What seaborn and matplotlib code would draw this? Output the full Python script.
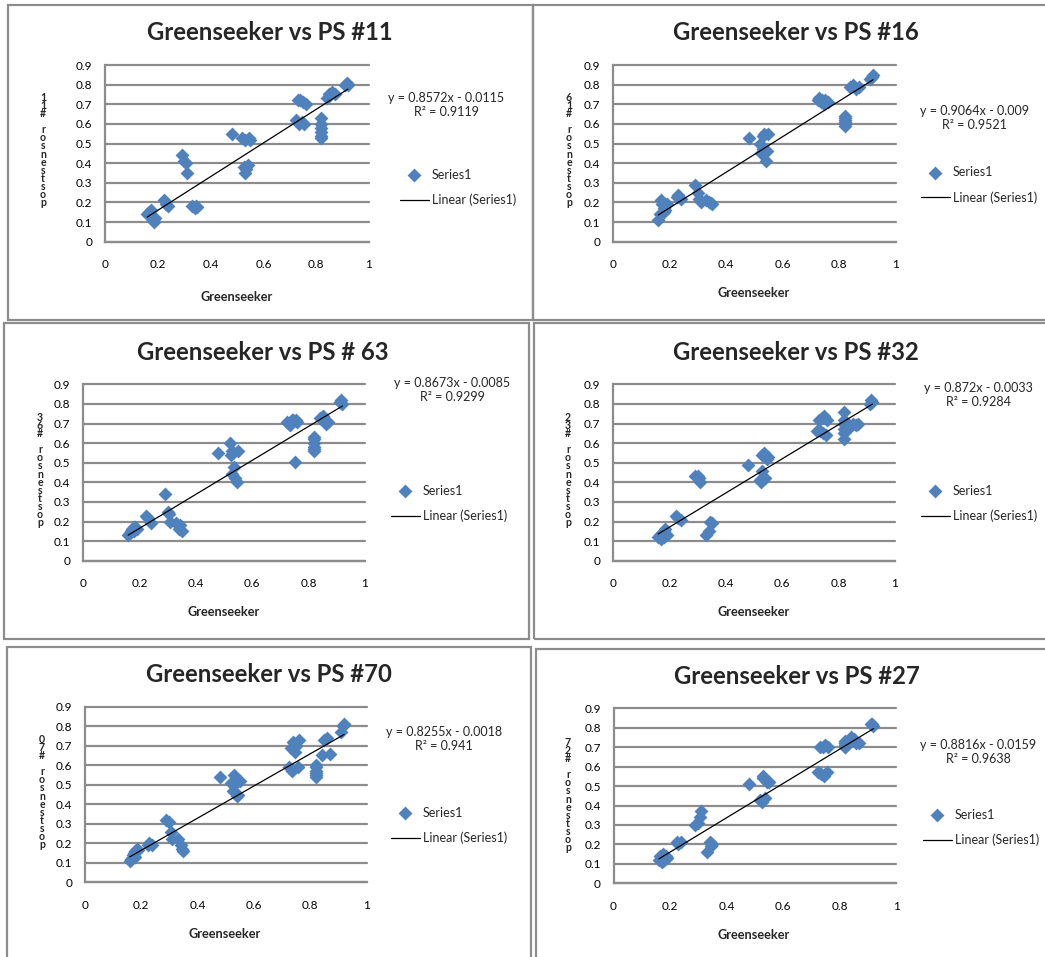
import numpy as np
import pandas as pd
import matplotlib
matplotlib.use("Agg")
import matplotlib.pyplot as plt
import seaborn as sns
from matplotlib.patches import Rectangle

# ---------------- data ----------------
greenseeker = [0.16, 0.165, 0.17, 0.175, 0.18, 0.18, 0.185, 0.19,
               0.225, 0.23, 0.24,
               0.29, 0.30, 0.305, 0.31,
               0.33, 0.34, 0.345, 0.35,
               0.48,
               0.52, 0.525, 0.53, 0.53, 0.535, 0.54, 0.545, 0.55,
               0.725, 0.73, 0.735, 0.74, 0.745, 0.75, 0.755, 0.76,
               0.82, 0.82, 0.82, 0.82, 0.82, 0.82,
               0.84, 0.85, 0.86, 0.87,
               0.91, 0.915, 0.92]

ps11 = [0.14, 0.15, 0.13, 0.16, 0.12, 0.11, 0.10, 0.12,
        0.21, 0.19, 0.18,
        0.44, 0.41, 0.40, 0.35,
        0.18, 0.17, 0.18, 0.175,
        0.55,
        0.53, 0.38, 0.52, 0.35, 0.37, 0.39, 0.53, 0.52,
        0.62, 0.72, 0.60, 0.72, 0.61, 0.71, 0.60, 0.70,
        0.63, 0.60, 0.58, 0.56, 0.54, 0.53,
        0.73, 0.75, 0.76, 0.75,
        0.80, 0.81, 0.80]

ps16 = [0.11, 0.14, 0.21, 0.19, 0.17, 0.15, 0.16, 0.19,
        0.23, 0.24, 0.22,
        0.29, 0.25, 0.22, 0.20,
        0.21, 0.20, 0.195, 0.19,
        0.53,
        0.50, 0.45, 0.54, 0.47, 0.55, 0.41, 0.46, 0.55,
        0.72, 0.73, 0.71, 0.72, 0.70, 0.72, 0.71, 0.71,
        0.63, 0.62, 0.60, 0.59, 0.61, 0.64,
        0.79, 0.80, 0.78, 0.79,
        0.83, 0.84, 0.85]

ps63 = [0.13, 0.14, 0.15, 0.16, 0.17, 0.15, 0.17, 0.16,
        0.23, 0.22, 0.19,
        0.34, 0.25, 0.24, 0.20,
        0.19, 0.16, 0.18, 0.15,
        0.55,
        0.60, 0.54, 0.56, 0.44, 0.48, 0.42, 0.40, 0.56,
        0.71, 0.70, 0.69, 0.72, 0.72, 0.505, 0.72, 0.71,
        0.62, 0.60, 0.58, 0.56, 0.57, 0.63,
        0.73, 0.74, 0.70, 0.71,
        0.81, 0.82, 0.80]

ps32 = [0.12, 0.13, 0.11, 0.14, 0.15, 0.12, 0.16, 0.13,
        0.23, 0.22, 0.21,
        0.43, 0.43, 0.42, 0.40,
        0.13, 0.15, 0.20, 0.19,
        0.49,
        0.41, 0.40, 0.54, 0.46, 0.55, 0.42, 0.52, 0.53,
        0.66, 0.72, 0.66, 0.73, 0.65, 0.74, 0.64, 0.72,
        0.76, 0.72, 0.67, 0.62, 0.65, 0.70,
        0.68, 0.70, 0.69, 0.70,
        0.80, 0.82, 0.81]

ps70 = [0.11, 0.12, 0.14, 0.15, 0.16, 0.13, 0.17, 0.165,
        0.19, 0.20, 0.19,
        0.32, 0.31, 0.26, 0.22,
        0.22, 0.19, 0.17, 0.16,
        0.54,
        0.51, 0.47, 0.55, 0.50, 0.53, 0.44, 0.45, 0.52,
        0.59, 0.69, 0.57, 0.72, 0.67, 0.70, 0.59, 0.73,
        0.59, 0.56, 0.54, 0.57, 0.55, 0.60,
        0.65, 0.73, 0.74, 0.66,
        0.77, 0.80, 0.81]

ps27 = [0.12, 0.14, 0.11, 0.15, 0.13, 0.12, 0.14, 0.13,
        0.21, 0.20, 0.21,
        0.30, 0.31, 0.34, 0.37,
        0.16, 0.21, 0.19, 0.20,
        0.51,
        0.43, 0.42, 0.55, 0.54, 0.44, 0.53, 0.52, 0.52,
        0.57, 0.70, 0.56, 0.70, 0.55, 0.71, 0.57, 0.70,
        0.70, 0.71, 0.72, 0.73, 0.70, 0.72,
        0.75, 0.74, 0.72, 0.72,
        0.82, 0.82, 0.81]

series = [ps11, ps16, ps63, ps32, ps70, ps27]
titles = ["Greenseeker vs PS #11", "Greenseeker vs PS #16",
          "Greenseeker vs PS # 63", "Greenseeker vs PS #32",
          "Greenseeker vs PS #70", "Greenseeker vs PS #27"]
ylabels = ["postsensor #11", "postsensor #16", "postsensor #63",
           "postsensor #32", "postsensor #70", "postsensor #27"]
slopes = [0.8572, 0.9064, 0.8673, 0.872, 0.8255, 0.8816]
intercepts = [-0.0115, -0.009, -0.0085, -0.0033, -0.0018, -0.0159]
r_squared = [0.9119, 0.9521, 0.9299, 0.9284, 0.941, 0.9638]
x_ticks = [0, 0.2, 0.4, 0.6, 0.8, 1]
x_ticklabels = ["0", "0.2", "0.4", "0.6", "0.8", "1"]
y_ticks = [0, 0.1, 0.2, 0.3, 0.4, 0.5, 0.6, 0.7, 0.8, 0.9]
y_ticklabels = ["0", "0.1", "0.2", "0.3", "0.4", "0.5", "0.6", "0.7", "0.8", "0.9"]

# ---------------- layout (pixels) ----------------
W, H = 1045, 957
layout = [
    dict(axes=(105, 369, 65, 241.7), title=(270, 33), eq=(446, 99), leg=(400, 187.5),
         ylab=(43, 150), xlab=(237, 297), box=(8, 5, 532.7, 320)),
    dict(axes=(613, 895.7, 65, 241.7), title=(796, 33), eq=(974, 112), leg=(921, 185),
         ylab=(569, 150), xlab=(754, 293), box=(532.7, 5, 1052, 320)),
    dict(axes=(83, 365, 384.3, 560.7), title=(263, 352), eq=(452, 384), leg=(391, 503.5),
         ylab=(40, 470), xlab=(224, 612), box=(4, 323.3, 529, 639)),
    dict(axes=(613, 895, 384.3, 560.7), title=(796, 352), eq=(978, 389), leg=(921, 503.5),
         ylab=(568, 470), xlab=(754, 612), box=(534.3, 323.3, 1052, 639)),
    dict(axes=(84.6, 366.7, 706.7, 882.3), title=(269, 674), eq=(444, 733), leg=(391, 825.5),
         ylab=(42, 792), xlab=(225, 934), box=(6.7, 647.3, 530.7, 962)),
    dict(axes=(613.5, 896, 708.3, 883.3), title=(797, 677), eq=(978, 746), leg=(923, 827.5),
         ylab=(568, 795), xlab=(754, 935), box=(535.7, 649, 1052, 962)),
]

BLUE = "#4F81BD"
GRID = "#8C8C8C"

sns.set_style("white")
plt.rcParams["font.family"] = ["Lato", "DejaVu Sans"]

fig = plt.figure(figsize=(W / 100, H / 100), dpi=100)


def fx(px):
    return px / W


def fy(py):
    return 1 - py / H


for i in range(6):
    L = layout[i]
    x0, x1, y0, y1 = L["axes"]
    ax = fig.add_axes([fx(x0), fy(y1), (x1 - x0) / W, (y1 - y0) / H])
    df = pd.DataFrame({"Greenseeker": greenseeker, "post": series[i]})
    sns.scatterplot(data=df, x="Greenseeker", y="post", marker="D", s=50,
                    color=BLUE, linewidth=0, ax=ax, label="Series1", zorder=3)
    xs = np.array([min(greenseeker), max(greenseeker)])
    ax.plot(xs, slopes[i] * xs + intercepts[i], color="black", lw=0.9,
            label="Linear (Series1)", zorder=4)

    ax.set_xlim(0, 1)
    ax.set_ylim(0, 0.9)
    ax.set_xticks(x_ticks)
    ax.set_xticklabels(x_ticklabels)
    ax.set_yticks(y_ticks)
    ax.set_yticklabels(y_ticklabels)
    ax.yaxis.grid(True, color=GRID, lw=1.6)
    ax.xaxis.grid(False)
    ax.set_axisbelow(True)
    for gl in ax.get_ygridlines():
        gl.set_clip_on(False)
    for s in ["top", "right"]:
        ax.spines[s].set_visible(False)
    for s in ["left", "bottom"]:
        ax.spines[s].set_color(GRID)
        ax.spines[s].set_linewidth(1.6)
    ax.tick_params(axis="both", direction="out", length=3.5, width=1.4,
                   color=GRID, labelsize=8.5, labelcolor="black")
    ax.tick_params(axis="x", pad=9)
    ax.tick_params(axis="y", pad=5.5)
    ax.set_xlabel("")
    ax.set_ylabel("")

    # x label
    fig.text(fx(L["xlab"][0]), fy(L["xlab"][1]), "Greenseeker", ha="center",
             va="center", fontsize=9.2, fontweight="bold")
    # stacked y label (Excel style)
    fig.text(fx(L["ylab"][0]), fy(L["ylab"][1]), "\n".join(reversed(ylabels[i])),
             ha="center", va="center", fontsize=7.6, fontweight="bold",
             linespacing=0.68, multialignment="center")
    # title
    fig.text(fx(L["title"][0]), fy(L["title"][1]), titles[i], ha="center",
             va="center", fontsize=17.2, fontweight="bold")
    # trendline equation
    eq = f"y = {slopes[i]}x - {abs(intercepts[i])}\nR\u00b2 = {r_squared[i]}"
    fig.text(fx(L["eq"][0]), fy(L["eq"][1]) + 0.007, eq, ha="center", va="top",
             fontsize=9, multialignment="center", linespacing=1.2)
    # legend
    ax.legend(loc="center left", bbox_to_anchor=(fx(L["leg"][0]), fy(L["leg"][1])),
              bbox_transform=fig.transFigure, frameon=False, fontsize=9,
              borderpad=0, borderaxespad=0, handlelength=2.3, handletextpad=0.25,
              labelspacing=1.05, scatterpoints=1, markerscale=1.0)

    # border box
    bl, bt, br, bb = L["box"]
    fig.add_artist(Rectangle((fx(bl), fy(bb)), (br - bl) / W, (bb - bt) / H,
                             transform=fig.transFigure, fill=False,
                             edgecolor=GRID, lw=1.6))

fig.savefig("out.png", dpi=100, facecolor="white")
